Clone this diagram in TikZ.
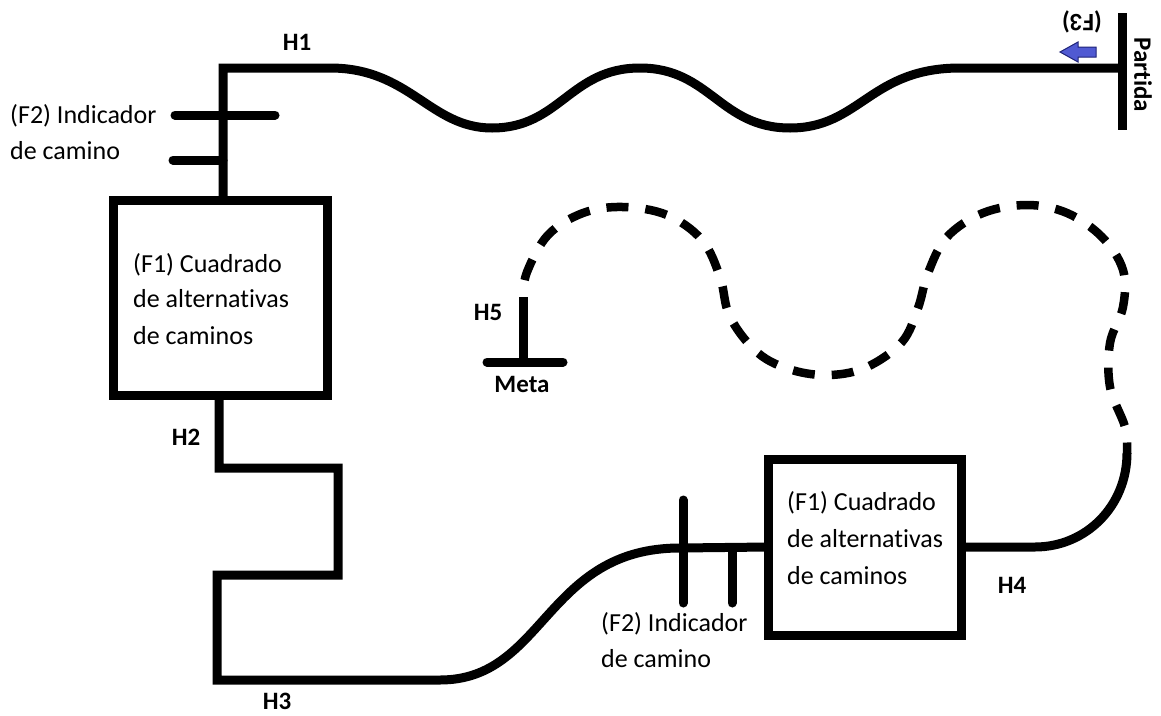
\documentclass[tikz,border=0pt]{standalone}
\usepackage{fontspec}
\setmainfont[Ligatures=NoCommon,RawFeature=-liga]{Carlito}
\begin{document}
\begin{tikzpicture}[x=1pt,y=-1pt,
  path/.style={line width=9pt},
  tick/.style={line width=9pt,line cap=round},
  dpath/.style={line width=8.5pt,dash pattern=on 22pt off 17pt,dash phase=22pt},
  fbox/.style={draw,line width=9pt,rectangle,outer sep=0pt,inner sep=0pt},
  txt/.style={anchor=base west,inner sep=0pt,font=\fontsize{26}{30}\selectfont},
  lbl/.style={inner sep=0pt,font=\fontsize{25}{29}\selectfont\bfseries}]
\useasboundingbox (0,0) rectangle (1161,715);
\definecolor{arrowblue}{RGB}{80,90,210}
\definecolor{arrowedge}{RGB}{30,35,120}

% boxes
\node[fbox,minimum width=214pt,minimum height=195pt] (box1) at (220,297.5) {};
\node[fbox,minimum width=193pt,minimum height=176pt] (box2) at (864.5,547) {};

% named points
\coordinate (c1) at (223,68);
\coordinate (c2) at (219,468);
\coordinate (start) at (1122,68);

% H1 path with wave
\draw[path] (box1.north -| c1) -- (c1) -- (330,68)
  .. controls (410,68) and (430,128) .. (492,128)
  .. controls (560,128) and (570,68) .. (640,68)
  .. controls (710,68) and (720,128) .. (790,128)
  .. controls (860,128) and (870,68) .. (960,68) -- (start);

% Partida bar
\draw[path] (1122,13) coordinate (pt) -- (1122,130) coordinate (pb);

% left F2 ticks
\draw[tick] (175,115) -- (275,115);
\draw[tick] (173,160) -- (223,160);

% H2 / H3 path
\draw[path] (box1.south -| c2) -- (c2) -- (338,468) -- (338,575) -- (217,575) -- (217,680) -- (440,680)
  .. controls (545,680) and (545,548) .. (680,548) -- (box2.west);

% bottom F2 ticks
\draw[tick] (683,500) -- (683,603);
\draw[tick] (732,550) -- (732,603);

% H4 arc
\coordinate (dend) at (1127,453);
\draw[path] (box2.east) -- (1035,547) .. controls (1086,547) and (1127,506) .. (dend);

% dashed path
\coordinate (h5top) at (523,297);
\draw[dpath] plot[smooth,tension=0.6] coordinates {(523,297) (527,272) (548,235) (583,213) (623,207) (667,215) (702,240) (720,277) (730,317) (758,353) (792,370) (830,375) (867,367) (902,342) (918,308) (928,273) (947,237) (983,213) (1027,205) (1067,213) (1102,237) (1123,270) (1123,307) (1110,343) (1110,387) (1125,427) (1127,453)};

% H5 / Meta
\coordinate (h5bot) at (523,362);
\draw[path] (h5top) -- (h5bot);
\draw[tick] (487,362) -- (563,362);

% arrow F3
\draw[fill=arrowblue,draw=arrowedge,line width=1pt,line join=miter]
  (1060,52) -- (1078,42) -- (1078,47) -- (1096,47) -- (1096,57) -- (1078,57) -- (1078,62) -- cycle;

% labels
\node[lbl] (h1) at (297,42) {H1};
\node[lbl] (h2) at (186,437) {H2};
\node[lbl] (h3) at (277,701) {H3};
\node[lbl] (h4) at (1012,585) {H4};
\node[lbl] (h5) at (488,312) {H5};
\node[lbl] (meta) at (522,384) {Meta};
\node[lbl,rotate=-90] (partida) at (1143,75) {Partida};
\node[lbl,rotate=180] (f3) at (1082,22) {(F3)};

% texts
\node[txt] (t1a) at (10,123) {(F2) Indicador};
\node[txt] (t1b) at (10,159) {de camino};
\node[txt] (b1a) at (133,272) {(F1) Cuadrado};
\node[txt] (b1b) at (133,307) {de alternativas};
\node[txt] (b1c) at (133,344) {de caminos};
\node[txt] (b2a) at (787,510) {(F1) Cuadrado};
\node[txt] (b2b) at (787,547) {de alternativas};
\node[txt] (b2c) at (787,584) {de caminos};
\node[txt] (t2a) at (601,631) {(F2) Indicador};
\node[txt] (t2b) at (601,667) {de camino};
\end{tikzpicture}
\end{document}
